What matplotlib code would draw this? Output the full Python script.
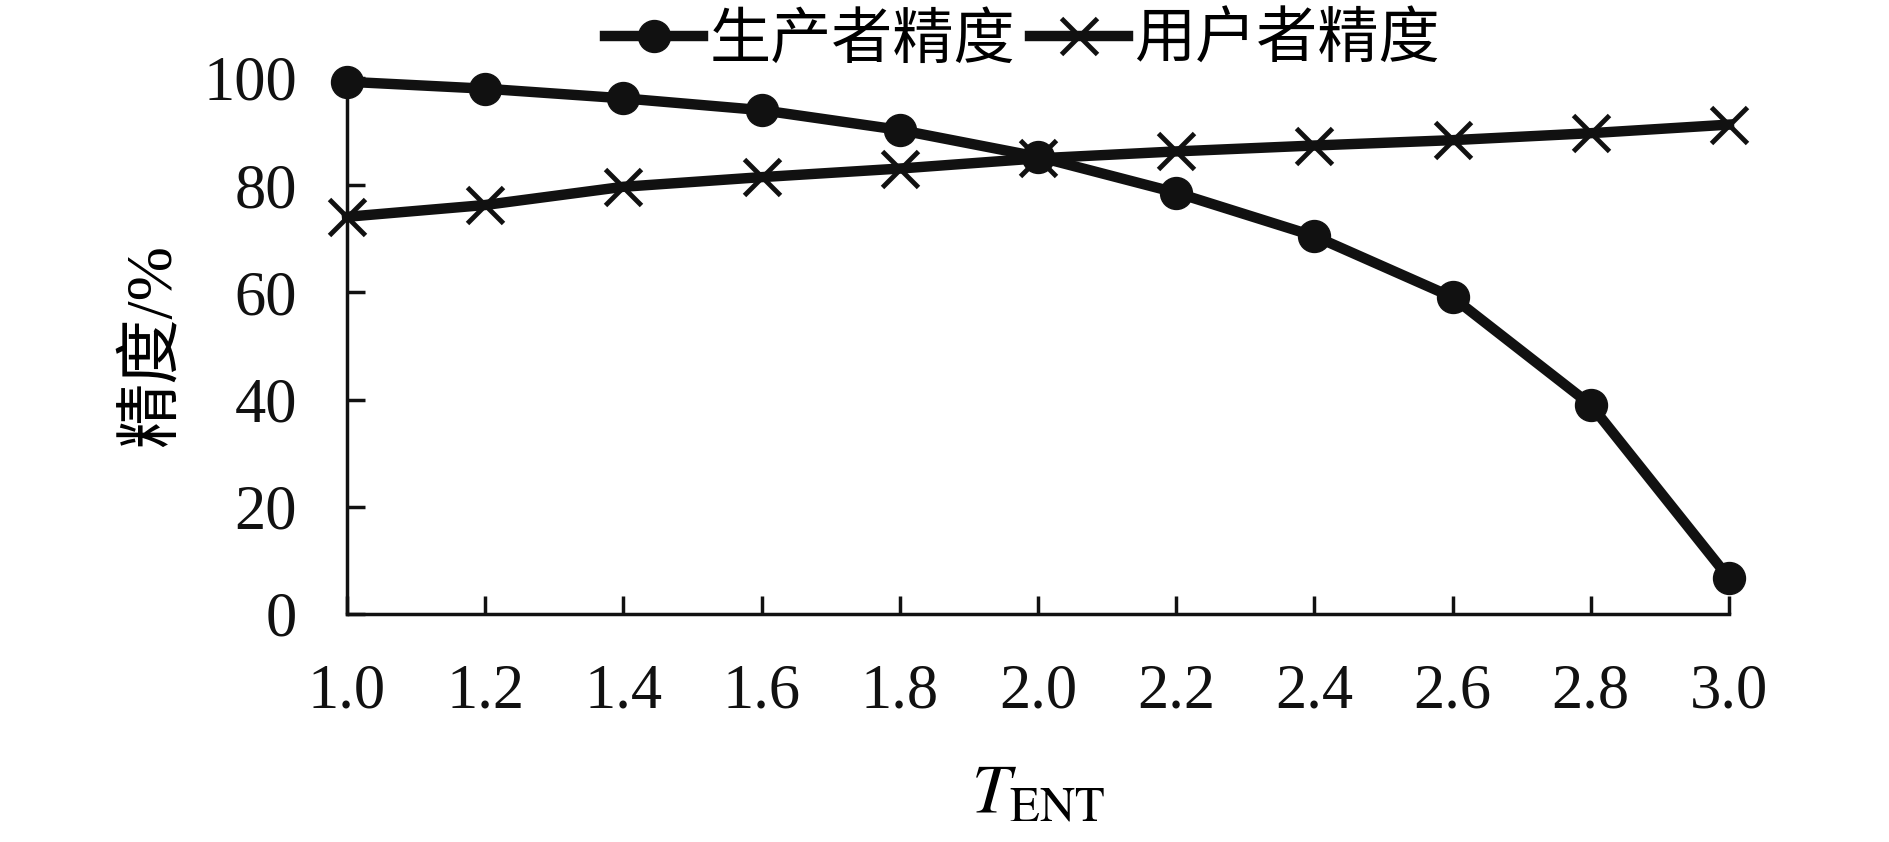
import matplotlib
matplotlib.use("Agg")
import matplotlib.pyplot as plt

x_vals = [1.0, 1.2, 1.4, 1.6, 1.8, 2.0, 2.2, 2.4, 2.6, 2.8, 3.0]
producer_acc = [99.3, 98.0, 96.2, 94.0, 90.3, 85.3, 78.6, 70.5, 59.1, 39.0, 6.7]
user_acc = [74.1, 76.3, 79.7, 81.5, 83.1, 85.0, 86.3, 87.4, 88.4, 89.7, 91.3]
series_names = ["生产者精度", "用户者精度"]
x_ticks = [1.0, 1.2, 1.4, 1.6, 1.8, 2.0, 2.2, 2.4, 2.6, 2.8, 3.0]
y_ticks = [0, 20, 40, 60, 80, 100]

plt.rcParams['font.family'] = ['Liberation Serif', 'Noto Sans CJK SC']
plt.rcParams['mathtext.fontset'] = 'stix'

fig = plt.figure(figsize=(18.9, 8.42), dpi=100)
ax = fig.add_axes([0.1836, 0.2708, 0.7312, 0.6366])

col = '#111111'
l1, = ax.plot(x_vals, producer_acc, color=col, lw=7.5, marker='o', ms=23,
              clip_on=False, zorder=3, label=series_names[0])
l2, = ax.plot(x_vals, user_acc, color=col, lw=7.5, marker='x', ms=26, mew=3.5,
              clip_on=False, zorder=3, label=series_names[1])

ax.set_xlim(1.0, 3.0)
ax.set_ylim(0, 100)
ax.set_xticks(x_ticks)
ax.set_xticklabels([f"{v:.1f}" for v in x_ticks])
ax.set_yticks(y_ticks)
ax.set_yticklabels([str(v) for v in y_ticks])
for s in ['top', 'right']:
    ax.spines[s].set_visible(False)
for s in ['left', 'bottom']:
    ax.spines[s].set_linewidth(2.5)
    ax.spines[s].set_color(col)
ax.tick_params(axis='both', direction='in', length=13, width=2.5, colors=col,
               labelsize=45, pad=36)

ax.set_ylabel("精度/%", fontsize=47, labelpad=14)
ax.set_xlabel(r"$T_{\mathrm{ENT}}$", fontsize=50, labelpad=30)

fig.legend(handles=[l1, l2], loc='center', bbox_to_anchor=(0.541, 0.952), ncol=2,
           frameon=False, handlelength=1.6, handletextpad=0.1,
           columnspacing=0.25, prop={'family': ['Noto Sans CJK SC'], 'size': 44})

fig.savefig("out.png", dpi=100)
